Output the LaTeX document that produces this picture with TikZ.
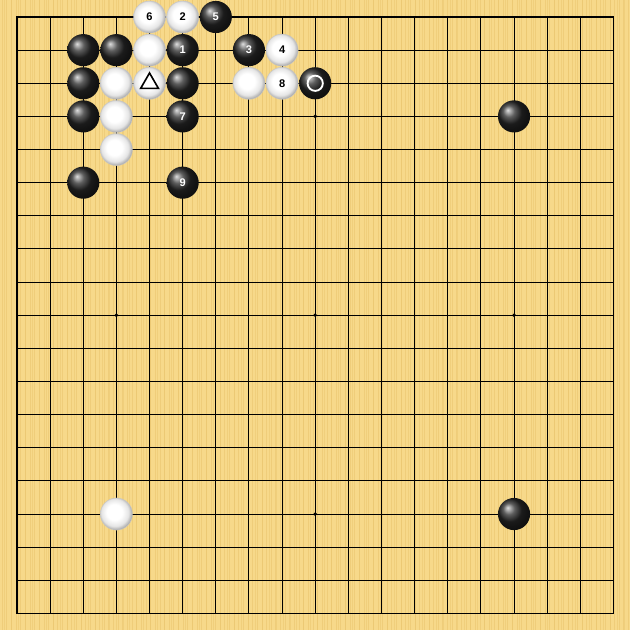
\documentclass[tikz,border=0pt]{standalone}
\usepackage{fontspec}
\setsansfont{Liberation Sans}
\usepackage{tikz}
\usetikzlibrary{shapes.geometric}
\definecolor{boardwood}{HTML}{F7D98A}
\definecolor{boardgrain}{HTML}{EBC670}
\pgfdeclareradialshading{whitestone}{\pgfpoint{-4bp}{4bp}}{color(0bp)=(white); color(12bp)=(white); color(21bp)=(black!10); color(28bp)=(black!40); color(50bp)=(black!40)}
\tikzstyle{stone}=[circle,minimum size=0.97cm,inner sep=0pt,font=\sffamily\bfseries\fontsize{9.5}{10}\selectfont]
\tikzstyle{black stone}=[stone,shading=ball,ball color=black!85,text=white]
\tikzstyle{white stone}=[stone,shading=whitestone,draw=black!22,line width=0.3pt,text=black]
\tikzstyle{hoshi}=[circle,fill=black,minimum size=0.12cm,inner sep=0pt]

\begin{document}
\begin{tikzpicture}
\useasboundingbox (-0.513,0.513) rectangle (18.5,-18.5);
% board
\fill[boardwood] (-0.513,0.513) rectangle (18.5,-18.5);
\foreach \x in {-0.45,-0.31,...,18.5}
  \draw[boardgrain,line width=0.5pt,opacity=0.6] (\x,0.513) -- (\x,-18.5);
\foreach \x in {-0.38,-0.17,...,18.5}
  \draw[boardgrain,line width=0.3pt,opacity=0.5] (\x,0.513) -- (\x,-18.5);
% grid
\foreach \i in {1,...,17} {
  \draw[line width=0.8pt] (\i,0) -- (\i,-18);
  \draw[line width=0.8pt] (0,-\i) -- (18,-\i);
}
\draw[line width=1.6pt] (0,0) rectangle (18,-18);
\foreach \c/\r in {3/3,9/3,15/3,3/9,9/9,15/9,3/15,9/15,15/15}
  \node[hoshi] (h-\c-\r) at (\c,-\r) {};
% stones
\foreach \c/\r in {2/1,3/1,2/2,5/2,9/2,2/3,15/3,2/5,15/15}
  \node[black stone] (b-\c-\r) at (\c,-\r) {};
\foreach \c/\r in {4/1,3/2,4/2,7/2,3/3,3/4,3/15}
  \node[white stone] (w-\c-\r) at (\c,-\r) {};
\node[black stone] (m1) at (5,-1) {1};
\node[white stone] (m2) at (5,0) {2};
\node[black stone] (m3) at (7,-1) {3};
\node[white stone] (m4) at (8,-1) {4};
\node[black stone] (m5) at (6,0) {5};
\node[white stone] (m6) at (4,0) {6};
\node[black stone] (m7) at (5,-3) {7};
\node[white stone] (m8) at (8,-2) {8};
\node[black stone] (m9) at (5,-5) {9};
% marks
\node[regular polygon,regular polygon sides=3,draw=black,line width=1.4pt,
  minimum size=0.62cm,inner sep=0pt] (tri) at (w-4-2) {};
\node[circle,draw=white,line width=1.6pt,minimum size=0.46cm,inner sep=0pt] (ring) at (b-9-2) {};
\end{tikzpicture}
\end{document}
